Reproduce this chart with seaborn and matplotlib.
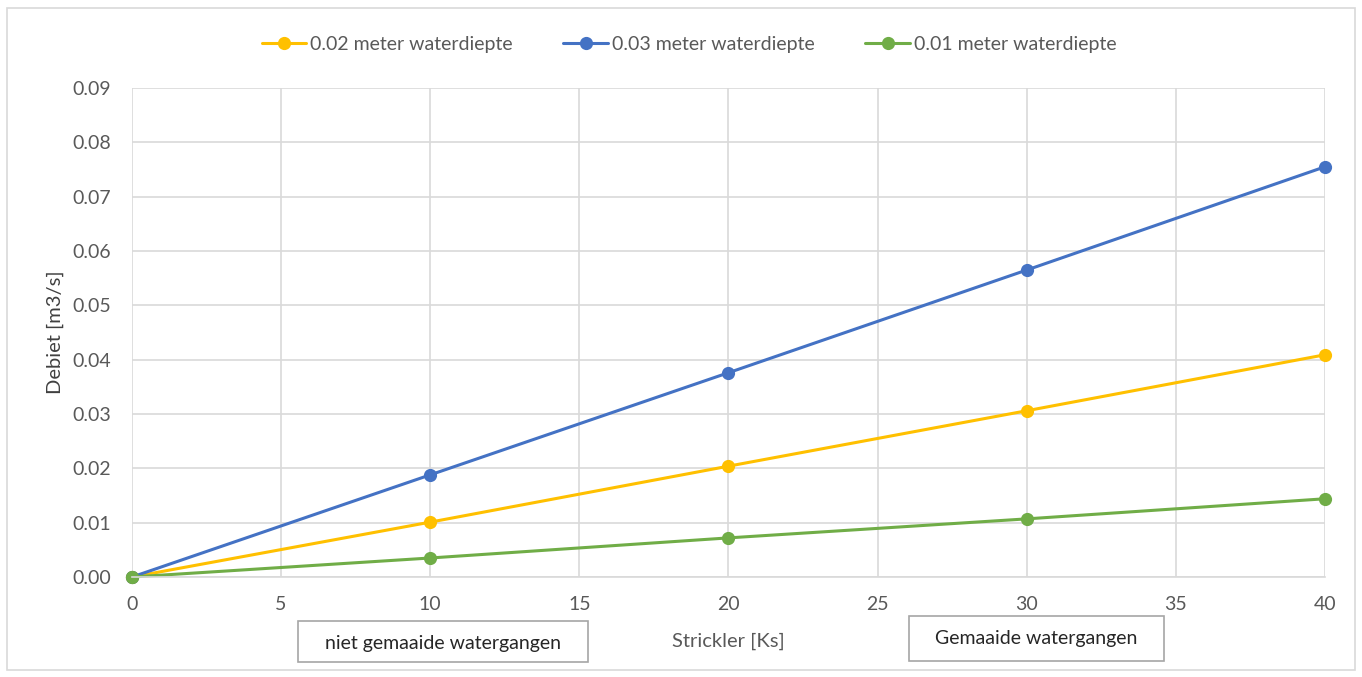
import pandas as pd
import seaborn as sns
import matplotlib.pyplot as plt
from matplotlib.patches import Rectangle

sns.set_theme(style="whitegrid")
plt.rcParams['font.family'] = ['Lato', 'DejaVu Sans']

# data
strickler = [0, 10, 20, 30, 40]
q_002 = [0.0, 0.0101, 0.0204, 0.0306, 0.0409]
q_003 = [0.0, 0.0188, 0.0376, 0.0565, 0.0755]
q_001 = [0.0, 0.0035, 0.0072, 0.0107, 0.0144]
series_names = ["0.02 meter waterdiepte", "0.03 meter waterdiepte", "0.01 meter waterdiepte"]
colors = ["#FFC000", "#4472C4", "#70AD47"]

df = pd.DataFrame({
    "Ks": strickler * 3,
    "Q": q_002 + q_003 + q_001,
    "serie": [series_names[0]] * 5 + [series_names[1]] * 5 + [series_names[2]] * 5,
})

fig = plt.figure(figsize=(13.62, 6.77), dpi=100)
ax = fig.add_axes([0.0969, 0.1477, 0.8759, 0.7223])

sns.lineplot(data=df, x="Ks", y="Q", hue="serie", palette=colors,
             marker="o", markersize=9.5, markeredgewidth=0, linewidth=2.2,
             ax=ax, legend=True)

ax.set_xlim(0, 40)
ax.set_ylim(0, 0.09)
ax.set_xticks(range(0, 41, 5))
ax.set_yticks([i / 100 for i in range(10)])
ax.set_yticklabels([f"{i/100:.2f}" for i in range(10)])
ax.grid(True, color="#d9d9d9", linewidth=1.2)
for s in ["top", "right", "left"]:
    ax.spines[s].set_visible(False)
ax.spines["bottom"].set_color("#d9d9d9")
ax.spines["bottom"].set_linewidth(1.2)
for line in ax.lines:
    line.set_clip_on(False)
ax.tick_params(axis="both", colors="#595959", labelsize=14, length=0)
ax.tick_params(axis="x", pad=14)
ax.tick_params(axis="y", pad=15)

ax.set_xlabel("Strickler [Ks]", fontsize=14.5, color="#595959", labelpad=14)
ax.set_ylabel("Debiet [m3/s]", fontsize=14.5, color="#404040", labelpad=6)

handles, labels = ax.get_legend_handles_labels()
leg = fig.legend(handles, labels, loc="center", bbox_to_anchor=(0.506, 0.935),
                 ncol=3, frameon=False, fontsize=14, labelcolor="#595959",
                 handlelength=2.3, handletextpad=0.2, columnspacing=2.6)
ax.get_legend().remove()

# annotation boxes below the axis
fig.patches.append(Rectangle((0.2188, 0.0222), 0.2129, 0.0606, transform=fig.transFigure,
                             fill=True, fc="white", ec="#a6a6a6", lw=1.2))
fig.text(0.3253, 0.050, "niet gemaaide watergangen", ha="center", va="center",
         fontsize=14, color="#262626")
fig.patches.append(Rectangle((0.6674, 0.0236), 0.1872, 0.0665, transform=fig.transFigure,
                             fill=True, fc="white", ec="#a6a6a6", lw=1.2))
fig.text(0.7607, 0.0576, "Gemaaide watergangen", ha="center", va="center",
         fontsize=14, color="#262626")

# outer chart border
fig.patches.append(Rectangle((0.005, 0.01), 0.99, 0.978, transform=fig.transFigure,
                             fill=False, ec="#d9d9d9", lw=1.2))

fig.savefig("out.png", dpi=100)
